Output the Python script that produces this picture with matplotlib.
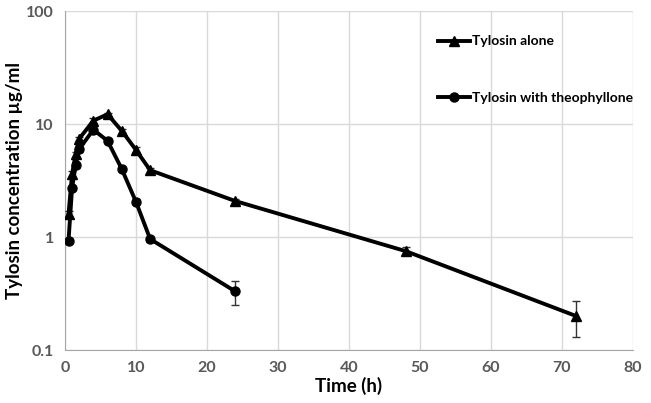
import numpy as np
import matplotlib
matplotlib.use("Agg")
import matplotlib.pyplot as plt
from matplotlib.ticker import FixedLocator, FixedFormatter, NullLocator
from matplotlib.lines import Line2D

plt.rcParams["font.family"] = ["Lato", "DejaVu Sans"]

# ── data ─────────────────────────────────────────────────────────────────────
time_alone = [0.5, 1, 1.5, 2, 4, 6, 8, 10, 12, 24, 48, 72]
conc_alone = [1.6, 3.6, 5.4, 7.4, 10.7, 12.2, 8.7, 5.9, 3.9, 2.08, 0.75, 0.20]
err_alone  = [0.1, 0.2, 0.3, 0.3, 0.5, 0.4, 0.4, 0.3, 0.2, 0.1, 0.06, 0.07]

time_theo = [0.5, 1, 1.5, 2, 4, 6, 8, 10, 12, 24]
conc_theo = [0.93, 2.7, 4.3, 6.0, 8.9, 7.1, 4.0, 2.05, 0.96, 0.33]
err_theo  = [0.05, 0.1, 0.2, 0.3, 0.4, 0.3, 0.2, 0.1, 0.05, 0.08]

yticks = [0.1, 1, 10, 100]
ytick_labels = ["0.1", "1", "10", "100"]
xticks = [0, 10, 20, 30, 40, 50, 60, 70, 80]

fig = plt.figure(figsize=(6.51, 4.03), dpi=100)
ax = fig.add_axes([0.0998, 0.1315, 0.8722, 0.8412])

ax.errorbar(time_alone, conc_alone, yerr=err_alone, color="black", lw=2.8,
            marker="^", ms=6.5, ecolor="#333333", elinewidth=1, capsize=3,
            zorder=3)
ax.errorbar(time_theo, conc_theo, yerr=err_theo, color="black", lw=2.8,
            marker="o", ms=6.5, ecolor="#333333", elinewidth=1, capsize=3,
            zorder=3)

ax.set_yscale("log")
ax.set_ylim(0.1, 100)
ax.set_xlim(0, 80)
ax.yaxis.set_major_locator(FixedLocator(yticks))
ax.yaxis.set_major_formatter(FixedFormatter(ytick_labels))
ax.yaxis.set_minor_locator(NullLocator())
ax.set_xticks(xticks)

ax.grid(True, color="#d9d9d9", lw=1)
ax.set_axisbelow(True)
for s in ["top", "right"]:
    ax.spines[s].set_visible(False)
for s in ["left", "bottom"]:
    ax.spines[s].set_color("#a6a6a6")
ax.tick_params(length=0, pad=8, labelsize=11.5, labelcolor="#595959")
for lab in ax.get_xticklabels() + ax.get_yticklabels():
    lab.set_fontweight("bold")

ax.set_xlabel("Time (h)", fontsize=13.5, fontweight="bold", labelpad=1)
ax.set_ylabel("Tylosin concentration µg/ml", fontsize=13.5, fontweight="bold", labelpad=2)

handles = [Line2D([], [], color="black", lw=2.8, marker="^", ms=6.5),
           Line2D([], [], color="black", lw=2.8, marker="o", ms=6.5)]
labels = ["Tylosin alone", "Tylosin with theophyllone"]
leg = ax.legend(handles, labels, loc="upper left", bbox_to_anchor=(0.635, 0.965),
                frameon=False, fontsize=10, handlelength=2.3, labelspacing=3.2,
                handletextpad=0.15)
for t in leg.get_texts():
    t.set_fontweight("bold")

fig.savefig("out.png", dpi=100)
